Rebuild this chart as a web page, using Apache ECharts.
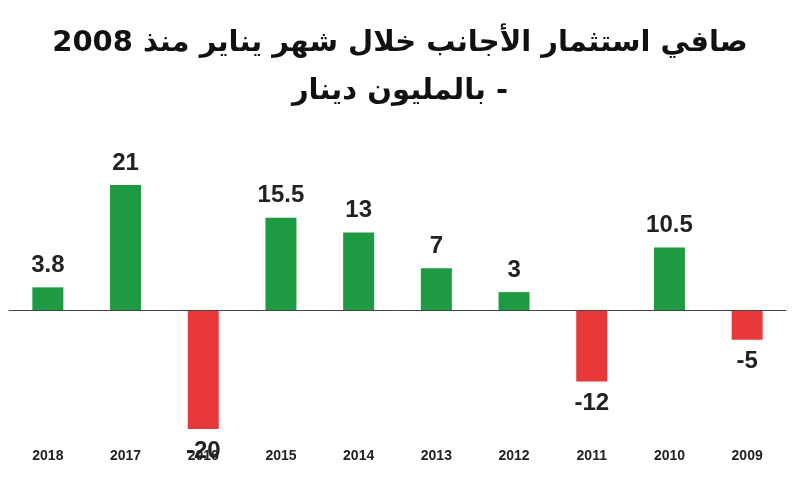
<!DOCTYPE html>
<html><head><meta charset="utf-8">
<script src="https://cdn.jsdelivr.net/npm/echarts@6/dist/echarts.min.js"></script>
<style>html,body{margin:0;background:#fff}#c{width:800px;height:491px}</style>
</head><body><div id="c"></div>
<script>
var years = ['2018','2017','2016','2015','2014','2013','2012','2011','2010','2009'];
var values = [3.8, 21, -20, 15.5, 13, 7, 3, -12, 10.5, -5];
var titleLine1 = 'صافي استثمار الأجانب خلال شهر يناير منذ 2008';
var titleLine2 = 'بالمليون دينار -';

var chart = echarts.init(document.getElementById('c'));
chart.setOption({
    backgroundColor: '#fff',
    title: {
        text: titleLine1 + '\n' + titleLine2,
        left: 'center',
        top: 14,
        textStyle: {
            fontFamily: 'DejaVu Sans',
            fontWeight: 'bold',
            fontSize: 29,
            color: '#111',
            lineHeight: 48
        }
    },
    grid: {left: 9, right: 14, top: 185, bottom: 62},
    xAxis: {
        type: 'category',
        data: years,
        axisLine: {onZero: true, lineStyle: {color: '#444', width: 1}},
        axisTick: {show: false},
        axisLabel: {
            margin: 20,
            fontFamily: 'Liberation Sans',
            fontWeight: 'bold',
            fontSize: 14,
            color: '#222'
        },
        z: 10
    },
    yAxis: {
        type: 'value', min: -20, max: 21,
        axisLine: {show: false}, axisTick: {show: false},
        axisLabel: {show: false}, splitLine: {show: false}
    },
    series: [{
        type: 'bar',
        barWidth: 31,
        data: values.map(function (v) {
            return {
                value: v,
                itemStyle: {color: v >= 0 ? '#1d9a42' : '#e8393a'},
                label: {position: v >= 0 ? 'top' : 'bottom'}
            };
        }),
        label: {
            show: true,
            distance: 10,
            fontFamily: 'Liberation Sans',
            fontWeight: 'bold',
            fontSize: 24,
            color: '#222'
        }
    }]
});
</script></body></html>
